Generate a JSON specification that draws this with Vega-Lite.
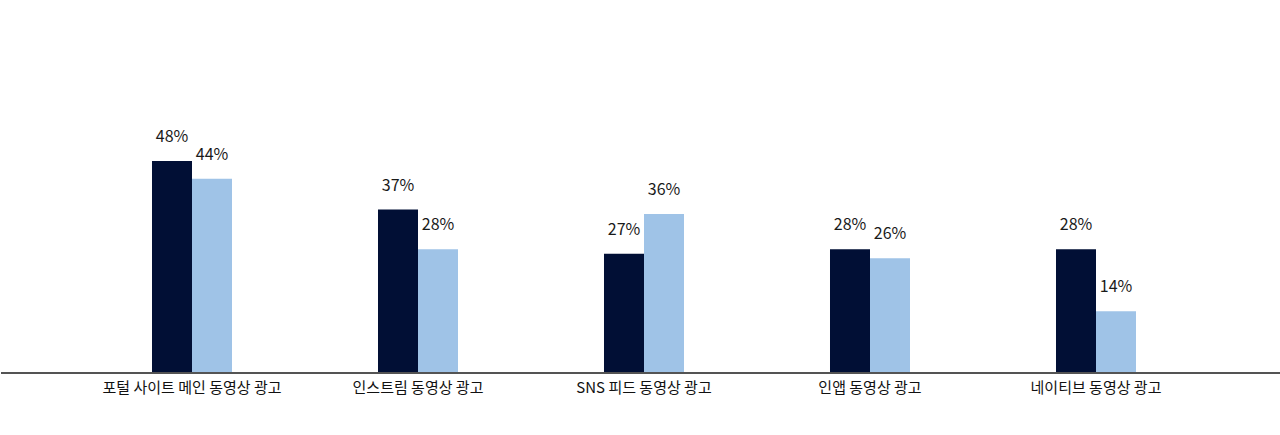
{
  "$schema": "https://vega.github.io/schema/vega-lite/v6.json",
  "width": 1280,
  "height": 373,
  "padding": 0,
  "config": {"view": {"stroke": null}, "font": "Noto Sans CJK KR"},
  "data": {"values": [
    {"category": "포털 사이트 메인 동영상 광고", "series": "A", "value": 48, "label": "48%"},
    {"category": "포털 사이트 메인 동영상 광고", "series": "B", "value": 44, "label": "44%"},
    {"category": "인스트림 동영상 광고", "series": "A", "value": 37, "label": "37%"},
    {"category": "인스트림 동영상 광고", "series": "B", "value": 28, "label": "28%"},
    {"category": "SNS 피드 동영상 광고", "series": "A", "value": 27, "label": "27%"},
    {"category": "SNS 피드 동영상 광고", "series": "B", "value": 36, "label": "36%"},
    {"category": "인앱 동영상 광고", "series": "A", "value": 28, "label": "28%"},
    {"category": "인앱 동영상 광고", "series": "B", "value": 26, "label": "26%"},
    {"category": "네이티브 동영상 광고", "series": "A", "value": 28, "label": "28%"},
    {"category": "네이티브 동영상 광고", "series": "B", "value": 14, "label": "14%"}
  ]},
  "layer": [
    {
      "mark": {"type": "bar"},
      "encoding": {
        "x": {"field": "category", "type": "nominal", "sort": null,
              "scale": {"range": [78, 1208], "paddingInner": 0.646, "paddingOuter": 0.323},
              "axis": {"title": null, "domain": false, "ticks": false, "labelAngle": 0, "labelFontSize": 15, "labelColor": "#111111", "labelPadding": 7, "labelFont": "Noto Sans CJK KR"}},
        "xOffset": {"field": "series", "type": "nominal", "scale": {"paddingInner": 0, "paddingOuter": 0}},
        "y": {"field": "value", "type": "quantitative", "scale": {"domain": [0, 84.45], "nice": false}, "axis": null},
        "color": {"field": "series", "type": "nominal", "scale": {"domain": ["A", "B"], "range": ["#010f35", "#9fc3e7"]}, "legend": null}
      }
    },
    {
      "mark": {"type": "text", "dy": -19, "baseline": "alphabetic", "fontSize": 16, "color": "#1a1a1a", "font": "Noto Sans CJK KR", "fontWeight": "normal"},
      "encoding": {
        "x": {"field": "category", "type": "nominal", "sort": null},
        "xOffset": {"field": "series", "type": "nominal"},
        "y": {"field": "value", "type": "quantitative"},
        "text": {"field": "label", "type": "nominal"}
      }
    },
    {
      "mark": {"type": "rule", "color": "#555555", "strokeWidth": 1},
      "encoding": {"y": {"datum": 0}}
    }
  ]
}
